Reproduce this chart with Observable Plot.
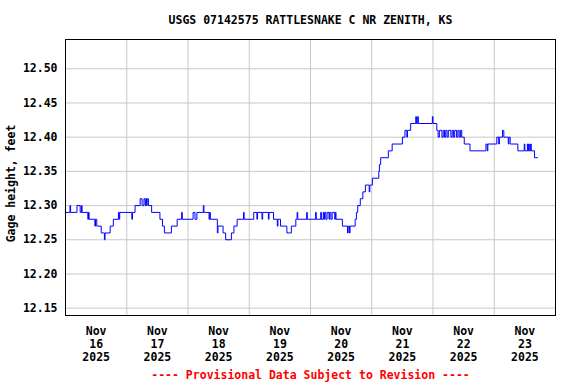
<!DOCTYPE html>
<html>
<head>
<meta charset="utf-8">
<script src="https://cdn.jsdelivr.net/npm/d3@7"></script>
<script src="https://cdn.jsdelivr.net/npm/@observablehq/plot@0.6"></script>
<style>
  html, body { margin: 0; padding: 0; background: #ffffff; }
  #chart { width: 576px; height: 384px; }
</style>
</head>
<body>
<div id="chart"></div>
<script>
const title = "USGS 07142575 RATTLESNAKE C NR ZENITH, KS";
const yLabel = "Gage height, feet";
const footer = "---- Provisional Data Subject to Revision ----";

// Step breakpoints of the 15-minute gage height record
const times = [
  "2025-11-16T00:00Z","2025-11-16T01:45Z","2025-11-16T02:00Z","2025-11-16T04:30Z","2025-11-16T05:45Z",
  "2025-11-16T06:15Z","2025-11-16T06:30Z","2025-11-16T08:45Z","2025-11-16T09:00Z","2025-11-16T09:15Z",
  "2025-11-16T11:30Z","2025-11-16T11:45Z","2025-11-16T12:15Z","2025-11-16T14:00Z","2025-11-16T15:15Z",
  "2025-11-16T15:30Z","2025-11-16T17:30Z","2025-11-16T18:45Z","2025-11-16T20:45Z","2025-11-16T21:00Z",
  "2025-11-16T21:15Z","2025-11-17T02:00Z","2025-11-17T02:15Z","2025-11-17T03:15Z","2025-11-17T05:15Z",
  "2025-11-17T06:00Z","2025-11-17T06:45Z","2025-11-17T07:15Z","2025-11-17T07:30Z","2025-11-17T07:45Z",
  "2025-11-17T08:00Z","2025-11-17T08:30Z","2025-11-17T09:45Z","2025-11-17T13:00Z","2025-11-17T14:00Z",
  "2025-11-17T14:45Z","2025-11-17T17:30Z","2025-11-17T19:45Z","2025-11-17T21:30Z","2025-11-17T21:45Z",
  "2025-11-18T02:00Z","2025-11-18T02:45Z","2025-11-18T03:30Z","2025-11-18T06:00Z","2025-11-18T06:15Z",
  "2025-11-18T08:15Z","2025-11-18T08:30Z","2025-11-18T08:45Z","2025-11-18T11:30Z","2025-11-18T11:45Z",
  "2025-11-18T13:45Z","2025-11-18T14:45Z","2025-11-18T17:00Z","2025-11-18T18:00Z","2025-11-18T19:15Z",
  "2025-11-18T21:45Z","2025-11-18T22:00Z","2025-11-19T01:45Z","2025-11-19T03:00Z","2025-11-19T03:15Z",
  "2025-11-19T05:00Z","2025-11-19T05:15Z","2025-11-19T07:30Z","2025-11-19T07:45Z","2025-11-19T09:30Z",
  "2025-11-19T11:00Z","2025-11-19T11:15Z","2025-11-19T12:15Z","2025-11-19T14:45Z","2025-11-19T16:30Z",
  "2025-11-19T18:15Z","2025-11-19T18:45Z","2025-11-19T19:00Z","2025-11-19T22:30Z","2025-11-19T22:45Z",
  "2025-11-20T02:00Z","2025-11-20T02:15Z","2025-11-20T04:00Z","2025-11-20T04:15Z","2025-11-20T05:00Z",
  "2025-11-20T05:15Z","2025-11-20T05:30Z","2025-11-20T06:00Z","2025-11-20T06:30Z","2025-11-20T07:15Z",
  "2025-11-20T07:30Z","2025-11-20T08:00Z","2025-11-20T08:30Z","2025-11-20T09:30Z","2025-11-20T09:45Z",
  "2025-11-20T10:00Z","2025-11-20T12:30Z","2025-11-20T14:30Z","2025-11-20T14:45Z","2025-11-20T15:15Z",
  "2025-11-20T15:30Z","2025-11-20T17:30Z","2025-11-20T18:00Z","2025-11-20T18:30Z","2025-11-20T19:30Z",
  "2025-11-20T20:30Z","2025-11-20T21:30Z","2025-11-20T23:00Z","2025-11-20T23:15Z","2025-11-21T00:15Z",
  "2025-11-21T02:45Z","2025-11-21T03:00Z","2025-11-21T03:30Z","2025-11-21T06:30Z","2025-11-21T08:00Z",
  "2025-11-21T12:00Z","2025-11-21T13:00Z","2025-11-21T13:45Z","2025-11-21T14:00Z","2025-11-21T15:15Z",
  "2025-11-21T17:15Z","2025-11-21T17:30Z","2025-11-21T18:00Z","2025-11-21T18:15Z","2025-11-21T23:45Z",
  "2025-11-22T00:00Z","2025-11-22T01:30Z","2025-11-22T02:00Z","2025-11-22T02:30Z","2025-11-22T03:30Z",
  "2025-11-22T04:00Z","2025-11-22T04:30Z","2025-11-22T05:00Z","2025-11-22T05:30Z","2025-11-22T06:00Z",
  "2025-11-22T07:00Z","2025-11-22T07:30Z","2025-11-22T08:00Z","2025-11-22T08:30Z","2025-11-22T09:15Z",
  "2025-11-22T09:45Z","2025-11-22T10:15Z","2025-11-22T10:45Z","2025-11-22T11:15Z","2025-11-22T12:15Z",
  "2025-11-22T14:30Z","2025-11-22T20:45Z","2025-11-22T21:15Z","2025-11-22T21:30Z","2025-11-23T01:00Z",
  "2025-11-23T01:45Z","2025-11-23T02:00Z","2025-11-23T03:15Z","2025-11-23T03:45Z","2025-11-23T05:30Z",
  "2025-11-23T05:45Z","2025-11-23T06:15Z","2025-11-23T09:15Z","2025-11-23T11:45Z","2025-11-23T12:00Z",
  "2025-11-23T13:00Z","2025-11-23T13:15Z","2025-11-23T13:30Z","2025-11-23T13:45Z","2025-11-23T14:15Z",
  "2025-11-23T14:30Z","2025-11-23T15:45Z","2025-11-23T17:00Z"
];
const heights = [
  12.29,12.30,12.29,12.30,12.29,
  12.30,12.29,12.28,12.29,12.28,
  12.27,12.28,12.27,12.26,12.25,
  12.26,12.27,12.28,12.29,12.28,
  12.29,12.28,12.29,12.30,12.31,
  12.30,12.31,12.30,12.31,12.30,
  12.31,12.30,12.29,12.28,12.27,
  12.26,12.27,12.28,12.29,12.28,
  12.29,12.28,12.29,12.30,12.29,
  12.28,12.29,12.28,12.26,12.27,
  12.26,12.25,12.26,12.27,12.28,
  12.29,12.28,12.29,12.28,12.29,
  12.28,12.29,12.28,12.29,12.28,
  12.27,12.28,12.27,12.26,12.27,
  12.28,12.29,12.28,12.29,12.28,
  12.29,12.28,12.29,12.28,12.29,
  12.28,12.29,12.28,12.29,12.28,
  12.29,12.28,12.29,12.28,12.29,
  12.28,12.27,12.26,12.27,12.26,
  12.27,12.28,12.29,12.30,12.31,
  12.32,12.33,12.32,12.33,12.34,
  12.35,12.36,12.37,12.38,12.39,
  12.40,12.41,12.40,12.41,12.42,
  12.43,12.42,12.43,12.42,12.43,
  12.42,12.41,12.40,12.41,12.40,
  12.41,12.40,12.41,12.40,12.41,
  12.40,12.41,12.40,12.41,12.40,
  12.41,12.40,12.41,12.40,12.39,
  12.38,12.39,12.38,12.39,12.40,
  12.39,12.40,12.41,12.40,12.39,
  12.40,12.39,12.38,12.39,12.38,
  12.39,12.38,12.39,12.38,12.39,
  12.38,12.37,12.37
];

const xDomain = ["2025-11-16T00:00Z", "2025-11-24T00:00Z"];
const yDomain = [12.1393, 12.5428];
const yTicks = [12.15, 12.20, 12.25, 12.30, 12.35, 12.40, 12.45, 12.50];
const dayGrid = ["2025-11-17","2025-11-18","2025-11-19","2025-11-20","2025-11-21","2025-11-22","2025-11-23"];
const dayLabels = ["2025-11-16","2025-11-17","2025-11-18","2025-11-19","2025-11-20","2025-11-21","2025-11-22","2025-11-23"];

const data = times.map((t, i) => ({t: new Date(t), v: heights[i]}));
const gridDates = dayGrid.map(d => new Date(d + "T00:00Z"));
const labelDates = dayLabels.map(d => new Date(d + "T12:00Z"));
const fmt = d3.utcFormat("%b\n%-d\n%Y");

const font = "'DejaVu Sans Mono', monospace";

const chart = Plot.plot({
  width: 576,
  height: 384,
  marginTop: 39,
  marginBottom: 69,
  marginLeft: 65,
  marginRight: 21,
  style: {fontFamily: font, fontSize: "11.5px", fontWeight: "bold", background: "#ffffff", color: "#000"},
  x: {type: "utc", domain: xDomain.map(d => new Date(d))},
  y: {domain: yDomain},
  marks: [
    Plot.gridY(yTicks, {stroke: "#c8c8c8", strokeOpacity: 1}),
    Plot.gridX(gridDates, {stroke: "#c8c8c8", strokeOpacity: 1}),
    Plot.line(data, {x: "t", y: "v", curve: "step-after", stroke: "#0000ff", strokeWidth: 1}),
    Plot.frame({stroke: "#000000"}),
    Plot.axisY({ticks: yTicks, tickSize: 0, tickPadding: 8, tickFormat: d3.format(".2f"), label: null, fontWeight: "bold"}),
    Plot.axisX({ticks: labelDates, tickSize: 0, tickPadding: 11, tickFormat: fmt, label: null, lineHeight: 1.1, fontWeight: "bold"}),
    Plot.text([title], {frameAnchor: "top", lineAnchor: "middle", textAnchor: "middle", dy: -19, fontWeight: "bold", fill: "#000"}),
    Plot.text([yLabel], {frameAnchor: "left", lineAnchor: "middle", textAnchor: "middle", dx: -54, dy: 6, rotate: -90, fontWeight: "bold", fill: "#000"}),
    Plot.text([footer], {frameAnchor: "bottom", lineAnchor: "middle", textAnchor: "middle", dy: 60, fontWeight: "bold", fill: "#ff0000"})
  ]
});
document.getElementById("chart").append(chart);
</script>
</body>
</html>
